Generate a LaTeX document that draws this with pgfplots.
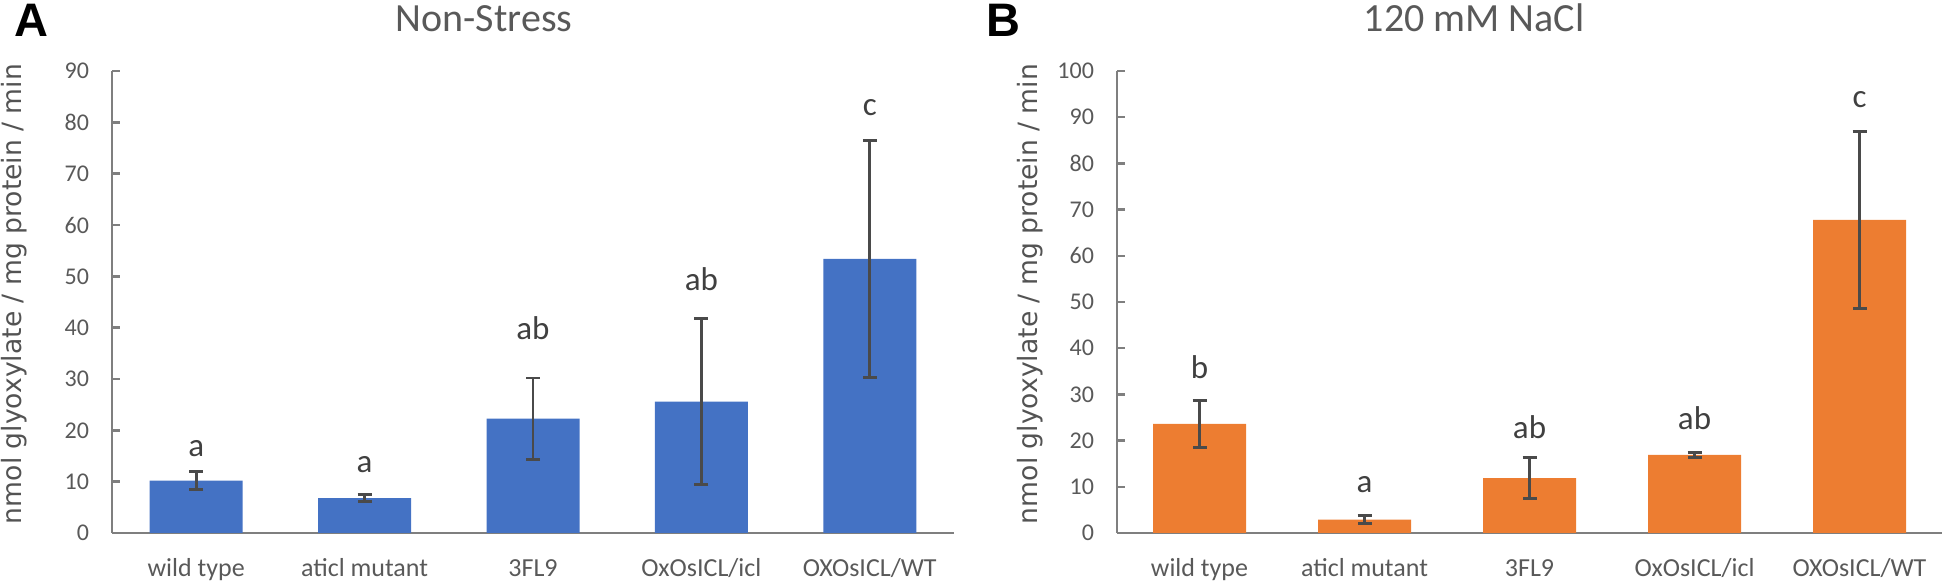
\documentclass[border=0pt]{standalone}
\usepackage{fontspec}
\setmainfont{Carlito}
\newfontfamily\labfont{DejaVu Sans}
\newfontfamily\panfont{Liberation Sans}
\usepackage{pgfplots}
\pgfplotsset{compat=1.18}
\definecolor{barA}{HTML}{4472C4}
\definecolor{barB}{HTML}{ED7D31}
\definecolor{axc}{HTML}{7F7F7F}
\definecolor{txc}{HTML}{595959}
\definecolor{errc}{HTML}{4A4A4A}
\definecolor{letc}{HTML}{404040}
\pgfplotsset{myax/.style={
  scale only axis, anchor=south west, clip=false,
  xmin=-0.5, xmax=4.5, ymin=0,
  axis x line=bottom, axis y line=left,
  axis line style={-, draw=axc, line width=1.2pt},
  xtick={0,1,2,3,4},
  xticklabels={wild type, aticl mutant, 3FL9, OxOsICL/icl, OXOsICL/WT},
  x tick style={draw=none},
  y tick style={draw=axc, line width=1.2pt},
  tick align=inside, major tick length=4pt,
  y tick label style={font=\fontsize{12}{14}\selectfont, text=txc, xshift=-8pt},
  x tick label style={font=\fontsize{13}{15}\selectfont, text=txc, anchor=base, yshift=-22pt},
  /pgf/number format/assume math mode=true,
},
mybar/.style={ybar, bar width=46.5pt, bar shift=0pt, draw=none, fill=#1,
  error bars/.cd, y dir=both, y explicit,
  error bar style={line width=1.45pt, draw=errc},
  error mark options={rotate=90, line width=1.45pt, mark size=3.5pt, draw=errc}},
mylet/.style={draw=none, mark=none, nodes near coords, point meta=explicit symbolic,
  nodes near coords style={anchor=center, font=\fontsize{16.5}{18}\selectfont, text=letc}}
}
\begin{document}
\begin{tikzpicture}
\path[use as bounding box] (0,0) rectangle (973pt,291pt);
% Panel A
\begin{axis}[myax, at={(56pt,24.5pt)}, width=421pt, height=231pt,
  ymax=90, ytick={0,10,...,90}]
\addplot[mybar=barA] coordinates {
  (0,10.2) +- (0,1.7)
  (1,6.8) +- (0,0.75)
  (2,22.3) +- (0,7.9)
  (3,25.6) +- (0,16.2)
  (4,53.4) +- (0,23.1)
};
\addplot[mylet] coordinates {
  (0,16.4) [a]
  (1,13.4) [a]
  (2,40.0) [ab]
  (3,49.5) [ab]
  (4,82.8) [c]
};
\end{axis}
% Panel B
\begin{axis}[myax, at={(558.5pt,24.5pt)}, width=412.5pt, height=231pt,
  ymax=100, ytick={0,10,...,100}]
\addplot[mybar=barB] coordinates {
  (0,23.6) +- (0,5.0)
  (1,2.9) +- (0,0.9)
  (2,11.9) +- (0,4.35)
  (3,16.9) +- (0,0.5)
  (4,67.8) +- (0,19.2)
};
\addplot[mylet] coordinates {
  (0,35.9) [b]
  (1,10.5) [a]
  (2,22.9) [ab]
  (3,24.8) [ab]
  (4,93.7) [c]
};
\end{axis}
% titles, panel letters, y labels
\node[anchor=base, font=\fontsize{20}{24}\selectfont, text=txc] at (242pt,275pt) {Non-Stress};
\node[anchor=base, font=\fontsize{20}{24}\selectfont, text=txc] at (737pt,275pt) {120 mM NaCl};
\node[anchor=base west, inner sep=0pt, font=\panfont\bfseries\fontsize{23.5}{26}\selectfont] at (7pt,272.5pt) {A};
\node[anchor=base west, inner sep=0pt, font=\panfont\bfseries\fontsize{23.5}{26}\selectfont] at (493pt,272.5pt) {B};
\node[rotate=90, font=\labfont\fontsize{13.3}{15}\selectfont, text=letc!90!white] at (7pt,144pt) {nmol glyoxylate / mg protein / min};
\node[rotate=90, font=\labfont\fontsize{13.3}{15}\selectfont, text=letc!90!white] at (515pt,144pt) {nmol glyoxylate / mg protein / min};
\end{tikzpicture}
\end{document}
